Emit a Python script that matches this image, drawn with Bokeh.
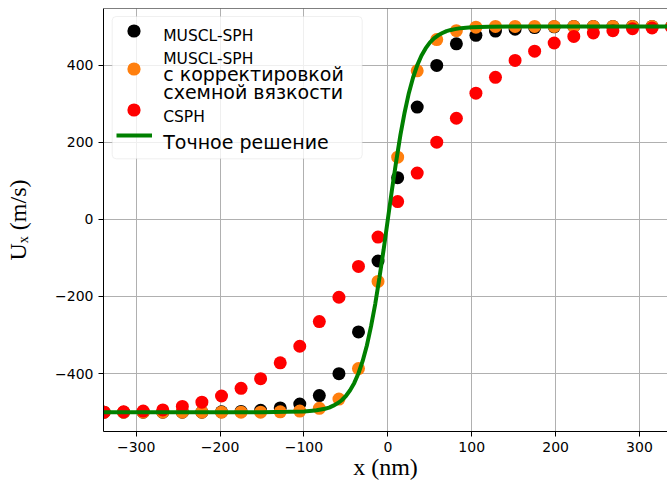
import math
from bokeh.plotting import figure
from bokeh.models import (Range1d, FixedTicker, CustomJSTickFormatter, Legend, LegendItem,
                          BoxAnnotation, Label, Span)
from bokeh.core.properties import value
from bokeh.embed import file_html
from bokeh.resources import INLINE

# ---------------- data ----------------
x_particles = [-338.3, -315.0, -291.7, -268.3, -245.0, -221.7, -198.3, -175.0, -151.7, -128.3,
               -105.0, -81.7, -58.3, -35.0, -11.7, 11.7, 35.0, 58.3, 81.7, 105.0,
               128.3, 151.7, 175.0, 198.3, 221.7, 245.0, 268.3, 291.7, 315.0, 338.3]

u_muscl = [-500, -500, -500, -500, -500, -500, -499, -498, -495, -489,
           -479, -457, -400, -292, -108, 108, 291, 399, 455, 477,
           488, 493, 497, 499, 500, 500, 500, 500, 500, 500]

u_muscl_corr = [-500, -500, -500, -500, -500, -500, -500, -500, -500, -499,
                -497, -490, -466, -387, -161, 161, 385, 466, 489, 498,
                500, 500, 500, 500, 500, 500, 500, 500, 500, 500]

u_csph = [-500, -499, -497, -494, -485, -474, -458, -438, -413, -372,
          -329, -265, -202, -122, -46, 46, 120, 200, 262, 327,
          368, 412, 436, 457, 474, 483, 489, 494, 496, 498]

x_exact = [-345, -200, -150, -120, -100, -90, -85, -80, -75, -70, -65, -60, -55, -50, -45, -40,
           -35, -30, -25, -20, -15, -10, -5, 0, 5, 10, 15, 20, 25, 30, 35, 40, 45, 50,
           55, 60, 65, 70, 75, 80, 85, 90, 100, 120, 150, 200, 345]
u_exact = [-500, -500, -500, -499, -498, -496, -495, -493, -491, -488, -483, -477, -469, -458, -443, -424,
           -399, -367, -327, -277, -219, -151, -78, 0, 78, 151, 219, 277, 327, 367, 399, 424, 443, 458,
           469, 477, 483, 488, 491, 493, 495, 496, 498, 499, 500, 500, 500]

x_ticks = [-300, -200, -100, 0, 100, 200, 300]
y_ticks = [-400, -200, 0, 200, 400]

series_labels = ["MUSCL-SPH", "CSPH", "Точное решение"]
corr_label_lines = ["MUSCL-SPH", "с корректировкой", "схемной вязкости"]
x_label = "x (nm)"
y_label = "Uₓ (m/s)"

# ---------------- figure ----------------
p = figure(width=667, height=485, output_backend="svg", toolbar_location=None,
           x_range=Range1d(-339, 333.4), y_range=Range1d(-550, 546.5),
           min_border_left=103, min_border_right=0, min_border_top=8, min_border_bottom=54)
p.outline_line_color = None
p.background_fill_color = "white"
p.border_fill_color = "white"

fmt = CustomJSTickFormatter(code="return String(tick).replace('-', '\\u2212');")
p.xaxis.ticker = FixedTicker(ticks=x_ticks, minor_ticks=[])
p.yaxis.ticker = FixedTicker(ticks=y_ticks, minor_ticks=[])
for ax in (p.xaxis, p.yaxis):
    ax.formatter = fmt
    ax.major_tick_in = 0
    ax.major_tick_out = 5
    ax.minor_tick_in = 0
    ax.minor_tick_out = 0
    ax.axis_line_color = "black"
    ax.axis_line_width = 1
    ax.major_tick_line_color = "black"
    ax.major_tick_line_width = 1
    ax.major_label_text_font = "DejaVu Sans"
    ax.major_label_text_font_size = "14px"
    ax.major_label_text_color = "black"
    ax.major_label_standoff = 5
    ax.axis_label_text_font = "Liberation Serif"
    ax.axis_label_text_font_size = "24px"
    ax.axis_label_text_font_style = "normal"
    ax.axis_label_text_color = "black"

p.xaxis.axis_label = x_label
p.yaxis.axis_label = y_label
p.xaxis.axis_label_standoff = -1
p.yaxis.axis_label_standoff = 21

p.xgrid.grid_line_color = "#b0b0b0"
p.ygrid.grid_line_color = "#b0b0b0"
p.xgrid.grid_line_width = 1
p.ygrid.grid_line_width = 1

# top spine
p.add_layout(Span(location=546.5, dimension="width", line_color="black", line_width=1))

# ---------------- data renderers ----------------
r_black = p.scatter(x_particles, u_muscl, size=13, fill_color="black", line_color=None)
r_orange = p.scatter(x_particles, u_muscl_corr, size=13, fill_color="#ff7f0e", line_color=None)
r_red = p.scatter(x_particles, u_csph, size=13, fill_color="#ff0000", line_color=None)
r_line = p.line(x_exact, u_exact, line_width=4, line_color="#008000")

# ---------------- legend ----------------
p.add_layout(BoxAnnotation(left=8.7, right=258.7, bottom=272.7, top=415,
                           left_units="screen", right_units="screen",
                           bottom_units="screen", top_units="screen",
                           fill_color="white", fill_alpha=0.8,
                           line_color="#cccccc", line_width=1, border_radius=4))

def glyph_legend(r, vx, vy, gw, gh):
    lg = Legend(items=[LegendItem(label=value(" "), renderers=[r])], location=(vx, vy),
                glyph_width=gw, glyph_height=gh, padding=0, margin=0, spacing=0,
                border_line_color=None, background_fill_alpha=0,
                label_text_font_size="1px", label_height=1, label_width=1, label_standoff=0)
    p.add_layout(lg)

glyph_legend(r_black, 14, 384.5, 33, 33)
glyph_legend(r_orange, 14, 346.2, 33, 33)
glyph_legend(r_red, 14, 305.2, 33, 33)
glyph_legend(r_line, 12.7, 286, 36, 20)

def txt(t, x, y, size, font="DejaVu Sans"):
    p.add_layout(Label(x=x, y=y, x_units="screen", y_units="screen", text=t,
                       text_font=font, text_font_size=size,
                       text_color="black", text_baseline="alphabetic", text_align="left"))

txt(series_labels[0], 59.7, 396, "15.5px")
txt(corr_label_lines[0], 59.7, 372.7, "15.5px")
txt(corr_label_lines[1], 59.7, 357.7, "19px")
txt(corr_label_lines[2], 59.7, 340, "19px")
txt(series_labels[1], 59.7, 315, "15.5px")
txt(series_labels[2], 59.7, 290, "19px")

open("out.html", "w").write(file_html(p, INLINE))
